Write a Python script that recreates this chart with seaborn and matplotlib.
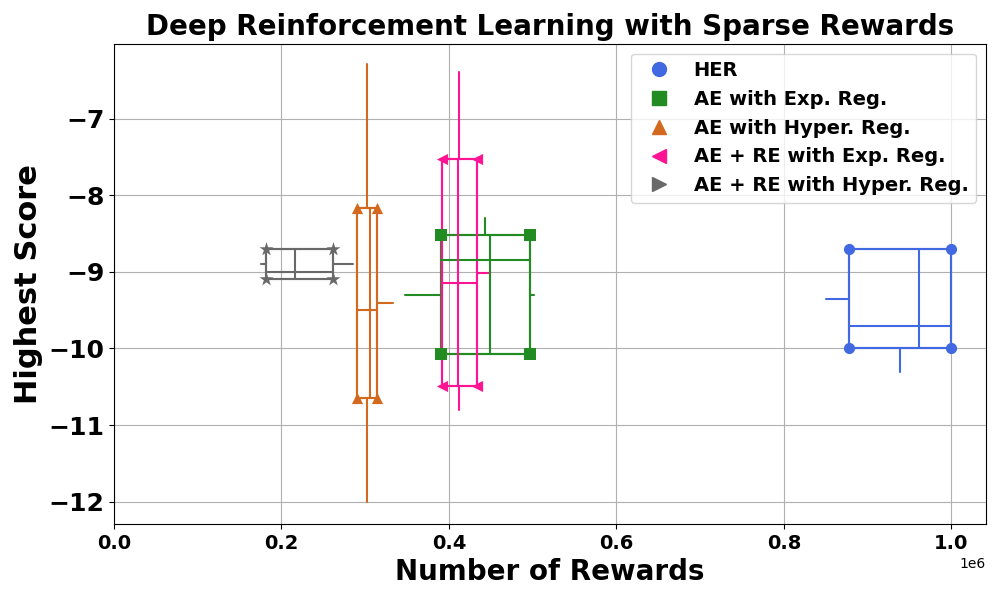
import matplotlib
matplotlib.use("Agg")
import matplotlib.pyplot as plt
from matplotlib.lines import Line2D
import seaborn as sns

# method names, colours and markers
methods = ["HER", "AE with Exp. Reg.", "AE with Hyper. Reg.",
           "AE + RE with Exp. Reg.", "AE + RE with Hyper. Reg."]
colors = ["royalblue", "forestgreen", "chocolate", "deeppink", "dimgray"]
plot_markers = ["o", "s", "^", "<", "*"]
legend_markers = ["o", "s", "^", "<", ">"]

# number of rewards (x1e6): whisker low, q1, median, q3, whisker high
rew_lo = [0.850, 0.347, 0.290, 0.392, 0.175]
rew_q1 = [0.878, 0.390, 0.290, 0.392, 0.181]
rew_med = [0.961, 0.4495, 0.3055, 0.411, 0.216]
rew_q3 = [1.000, 0.497, 0.314, 0.433, 0.261]
rew_hi = [1.000, 0.501, 0.333, 0.4495, 0.285]

# highest score: whisker low, q1, median, q3, whisker high
score_lo = [-10.31, -10.076, -12.00, -10.80, -9.094]
score_q1 = [-10.00, -10.076, -10.652, -10.495, -9.094]
score_med = [-9.70, -8.84, -9.50, -9.147, -9.00]
score_q3 = [-8.70, -8.522, -8.169, -7.524, -8.70]
score_hi = [-8.70, -8.29, -6.28, -6.385, -8.70]

sns.set_style("ticks", rc={"text.color": "black", "axes.labelcolor": "black",
                           "xtick.color": "black", "ytick.color": "black",
                           "axes.edgecolor": "black"})
fig, ax = plt.subplots(figsize=(10, 6), dpi=100)

for i in range(len(methods)):
    c = colors[i]
    props = dict(color=c, linewidth=1.5)
    xs = dict(whislo=rew_lo[i] * 1e6, q1=rew_q1[i] * 1e6, med=rew_med[i] * 1e6,
              q3=rew_q3[i] * 1e6, whishi=rew_hi[i] * 1e6, fliers=[])
    ys = dict(whislo=score_lo[i], q1=score_q1[i], med=score_med[i],
              q3=score_q3[i], whishi=score_hi[i], fliers=[])
    x_c = (xs["q1"] + xs["q3"]) / 2
    y_c = (ys["q1"] + ys["q3"]) / 2
    # vertical box of scores, as wide as the reward box
    ax.bxp([ys], positions=[x_c], widths=[xs["q3"] - xs["q1"]],
           orientation="vertical", showcaps=False, showfliers=False,
           manage_ticks=False, boxprops=props, whiskerprops=props,
           medianprops=props)
    # horizontal box of rewards, as tall as the score box
    ax.bxp([xs], positions=[y_c], widths=[ys["q3"] - ys["q1"]],
           orientation="horizontal", showcaps=False, showfliers=False,
           manage_ticks=False, boxprops=props, whiskerprops=props,
           medianprops=props)
    # corner markers
    cx = [xs["q1"], xs["q3"], xs["q1"], xs["q3"]]
    cy = [ys["q3"], ys["q3"], ys["q1"], ys["q1"]]
    sz = 110 if plot_markers[i] == "*" else 65
    sns.scatterplot(x=cx, y=cy, marker=plot_markers[i], color=c, s=sz,
                    edgecolor=c, linewidth=0, zorder=4, ax=ax, legend=False)

ax.set_xlim(left=0)
ax.set_ylim(-12.29, -6.02)
ax.grid(True, color="#b0b0b0", linewidth=0.8)
ax.set_axisbelow(True)

ax.set_title("Deep Reinforcement Learning with Sparse Rewards",
             fontsize=20, fontweight="bold")
ax.set_xlabel("Number of Rewards", fontsize=20, fontweight="bold")
ax.set_ylabel("Highest Score", fontsize=22, fontweight="bold")
ax.tick_params(axis="x", labelsize=14)
ax.tick_params(axis="y", labelsize=18)
for lab in ax.get_xticklabels() + ax.get_yticklabels():
    lab.set_fontweight("bold")

handles = [Line2D([], [], marker=legend_markers[i], color=colors[i],
                  linestyle="None", markersize=10) for i in range(len(methods))]
leg = ax.legend(handles, methods, loc="upper right",
                prop=dict(size=14, weight="bold"))

fig.subplots_adjust(left=0.114, right=0.986, top=0.927, bottom=0.127)
fig.savefig("out.png", dpi=100)
